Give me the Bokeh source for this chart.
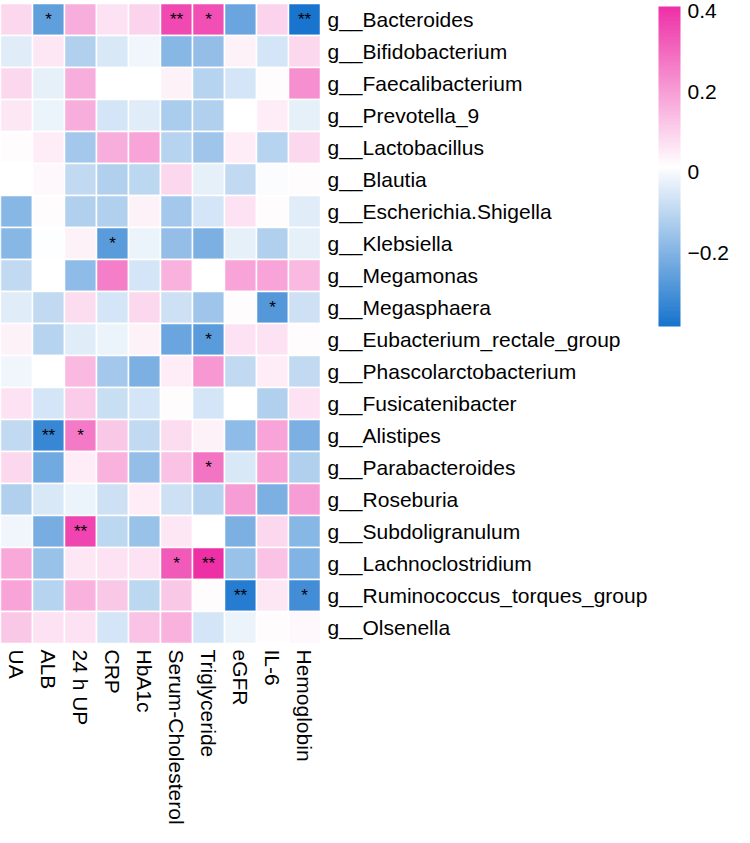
import math
from bokeh.plotting import figure
from bokeh.models import ColumnDataSource, LinearColorMapper, ColorBar, FixedTicker, Range1d
from bokeh.transform import transform
from bokeh.core.properties import value
from bokeh.embed import file_html
from bokeh.resources import INLINE

genera = ["g__Bacteroides", "g__Bifidobacterium", "g__Faecalibacterium", "g__Prevotella_9",
          "g__Lactobacillus", "g__Blautia", "g__Escherichia.Shigella", "g__Klebsiella",
          "g__Megamonas", "g__Megasphaera", "g__Eubacterium_rectale_group",
          "g__Phascolarctobacterium", "g__Fusicatenibacter", "g__Alistipes",
          "g__Parabacteroides", "g__Roseburia", "g__Subdoligranulum",
          "g__Lachnoclostridium", "g__Ruminococcus_torques_group", "g__Olsenella"]

variables = ["UA", "ALB", "24 h UP", "CRP", "HbA1c", "Serum-Cholesterol",
             "Triglyceride", "eGFR", "IL-6", "Hemoglobin"]

corr = [
    [0.09, -0.26, 0.17, 0.07, 0.10, 0.36, 0.35, -0.24, 0.10, -0.38],
    [-0.04, 0.06, -0.12, -0.05, -0.01, -0.19, -0.17, 0.04, -0.06, 0.09],
    [0.09, -0.03, 0.17, 0.015, 0.015, 0.04, -0.11, -0.06, 0.02, 0.23],
    [0.06, -0.02, 0.17, -0.06, -0.04, -0.13, -0.12, 0.015, 0.05, -0.03],
    [0.02, 0.05, -0.14, 0.17, 0.19, -0.11, -0.15, 0.05, -0.11, 0.09],
    [0.015, 0.03, -0.09, -0.12, -0.10, 0.09, -0.03, -0.09, 0.005, 0.02],
    [-0.19, 0.02, -0.12, -0.12, 0.04, -0.14, -0.06, 0.07, 0.02, -0.04],
    [-0.19, 0.01, 0.04, -0.27, -0.02, -0.17, -0.21, -0.03, -0.12, -0.03],
    [-0.09, 0.015, -0.18, 0.26, -0.06, 0.16, 0.015, 0.19, 0.19, 0.15],
    [-0.04, -0.09, 0.08, -0.06, 0.09, -0.07, -0.15, 0.02, -0.28, -0.07],
    [0.04, -0.11, -0.04, -0.02, 0.04, -0.24, -0.27, 0.07, 0.07, 0.02],
    [-0.01, 0.015, 0.15, -0.14, -0.21, 0.05, 0.21, -0.09, 0.05, -0.09],
    [0.07, -0.06, 0.11, -0.08, -0.06, 0.02, -0.06, 0.015, -0.12, 0.07],
    [-0.09, -0.33, 0.27, 0.12, -0.09, 0.08, 0.04, -0.18, 0.19, -0.21],
    [0.09, -0.23, 0.05, 0.16, -0.17, 0.13, 0.28, -0.05, 0.19, -0.12],
    [-0.12, -0.05, -0.02, -0.07, 0.05, -0.07, -0.11, 0.20, -0.21, 0.20],
    [-0.01, -0.22, 0.37, -0.10, -0.16, 0.06, 0.015, -0.21, 0.09, -0.19],
    [0.18, -0.16, 0.06, 0.07, 0.07, 0.33, 0.41, -0.16, 0.13, -0.20],
    [0.19, -0.11, 0.16, 0.12, -0.10, 0.12, 0.02, -0.36, 0.06, -0.31],
    [0.12, 0.07, 0.07, -0.06, 0.13, 0.16, -0.06, -0.02, 0.02, 0.03],
]

significance = [
    ("g__Bacteroides", "ALB", "*"), ("g__Bacteroides", "Serum-Cholesterol", "**"),
    ("g__Bacteroides", "Triglyceride", "*"), ("g__Bacteroides", "Hemoglobin", "**"),
    ("g__Klebsiella", "CRP", "*"), ("g__Megasphaera", "IL-6", "*"),
    ("g__Eubacterium_rectale_group", "Triglyceride", "*"),
    ("g__Alistipes", "ALB", "**"), ("g__Alistipes", "24 h UP", "*"),
    ("g__Parabacteroides", "Triglyceride", "*"), ("g__Subdoligranulum", "24 h UP", "**"),
    ("g__Lachnoclostridium", "Serum-Cholesterol", "*"),
    ("g__Lachnoclostridium", "Triglyceride", "**"),
    ("g__Ruminococcus_torques_group", "eGFR", "**"),
    ("g__Ruminococcus_torques_group", "Hemoglobin", "*"),
]

colorbar_ticks = [-0.2, 0.0, 0.2, 0.4]
value_low, value_high = -0.383, 0.412

# palette blue -> white -> pink
blue, white, pink = (24, 116, 205), (255, 255, 255), (238, 48, 167)
n = 128
palette = []
for i in range(n):
    t = i / (n - 1)
    c = [round(blue[k] + (white[k] - blue[k]) * t) for k in range(3)]
    palette.append("#%02x%02x%02x" % tuple(c))
for i in range(1, n):
    t = i / (n - 1)
    c = [round(white[k] + (pink[k] - white[k]) * t) for k in range(3)]
    palette.append("#%02x%02x%02x" % tuple(c))

FONT = "Liberation Sans"
CELL = 32.0
TOP = 3.0
W, H = 734, 827
nr, nc = len(genera), len(variables)

xs, ys, vals = [], [], []
for r, g in enumerate(genera):
    for c, v in enumerate(variables):
        xs.append(c + 0.5)
        ys.append(nr - r - 0.5)
        vals.append(corr[r][c])
src = ColumnDataSource(dict(x=xs, y=ys, v=vals))

mapper = LinearColorMapper(palette=palette, low=value_low, high=value_high)

y_top = nr + TOP / CELL
p = figure(width=W, height=H, output_backend="svg", toolbar_location=None,
           x_range=Range1d(0, W / CELL), y_range=Range1d(y_top - H / CELL, y_top),
           min_border=0, x_axis_location=None, y_axis_location=None)
p.grid.visible = False
p.outline_line_color = None
p.background_fill_color = "white"

p.rect(x="x", y="y", width=1, height=1, source=src,
       fill_color=transform("v", mapper), line_color="white", line_width=1.5)

# significance stars
sx, sy, st = [], [], []
for g, v, m in significance:
    sx.append(variables.index(v) + 0.5)
    sy.append(nr - genera.index(g) - 0.5)
    st.append(m)
p.text(x=sx, y=sy, text=st, text_align="center", text_baseline="middle",
       text_font=value(FONT), text_font_size="17px", text_color="black")

# row labels
p.text(x=[nc + 7 / CELL] * nr, y=[nr - r - 0.5 for r in range(nr)], text=genera,
       text_align="left", text_baseline="middle", text_font=value(FONT),
       text_font_size="21px", text_color="black")

# column labels
p.text(x=[c + 0.5 for c in range(nc)], y=[-6 / CELL] * nc, text=variables,
       angle=-math.pi / 2, text_align="left", text_baseline="middle",
       text_font=value(FONT), text_font_size="21px", text_color="black")

cb = ColorBar(color_mapper=mapper, width=22, height=int(10 * CELL),
              location=(658, H - 6 - int(10 * CELL)), padding=0, margin=0,
              ticker=FixedTicker(ticks=colorbar_ticks),
              major_label_overrides={-0.2: "\u22120.2", 0.0: "0", 0.2: "0.2", 0.4: "0.4"},
              major_label_text_font=FONT, major_label_text_font_size="21px",
              major_label_text_color="black", label_standoff=7,
              major_tick_line_color=None, minor_tick_line_color=None,
              bar_line_color=None, border_line_color=None,
              background_fill_color=None)
p.add_layout(cb, "center")

open("out.html", "w").write(file_html(p, INLINE))
